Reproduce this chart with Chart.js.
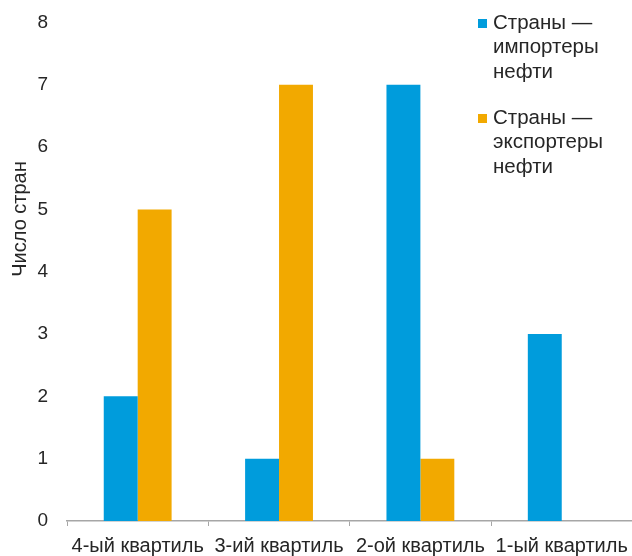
<!DOCTYPE html>
<html>
<head>
<meta charset="utf-8">
<script src="https://cdn.jsdelivr.net/npm/chart.js@4"></script>
<style>
  html, body { margin: 0; padding: 0; background: #fff; overflow: hidden; }
  #wrap { width: 636px; height: 556px; }
</style>
</head>
<body>
<div id="wrap"><canvas id="myChart" width="636" height="556"></canvas></div>
<script>
const categories = ['4-ый квартиль', '3-ий квартиль', '2-ой квартиль', '1-ый квартиль'];
const importers = [2, 1, 7, 3];
const exporters = [5, 7, 1, 0];
const importersLines = ['Страны —', 'импортеры', 'нефти'];
const exportersLines = ['Страны —', 'экспортеры', 'нефти'];
const yTitle = 'Число стран';

const blue = '#009cdc';
const orange = '#f2a900';
const textColor = '#262626';
const fontFamily = '"Liberation Sans", Arial, sans-serif';

// legend inside the plot (top right) + y title, which sits above the middle
const extras = {
  id: 'extras',
  afterDraw(chart) {
    const ctx = chart.ctx;
    const blocks = [
      { color: blue, lines: importersLines, y: 23 },
      { color: orange, lines: exportersLines, y: 118 }
    ];
    ctx.save();
    ctx.font = '20.5px ' + fontFamily;
    ctx.textBaseline = 'middle';
    blocks.forEach(b => {
      ctx.fillStyle = b.color;
      ctx.fillRect(478, b.y - 4, 9, 9);
      ctx.fillStyle = textColor;
      b.lines.forEach((line, i) => {
        ctx.fillText(line, 493, b.y + i * 24.5);
      });
    });

    ctx.translate(20, 219);
    ctx.rotate(-Math.PI / 2);
    ctx.textAlign = 'center';
    ctx.font = '20px ' + fontFamily;
    ctx.fillStyle = textColor;
    ctx.fillText(yTitle, 0, 0);
    ctx.restore();
  }
};

var data = {
  labels: categories,
  datasets: [{
    label: importersLines.join(' '),
    data: importers,
    backgroundColor: blue,
    borderWidth: 0
  }, {
    label: exportersLines.join(' '),
    data: exporters,
    backgroundColor: orange,
    borderWidth: 0
  }]
};

var config = {
  type: 'bar',
  data: data,
  options: {
    responsive: false,
    animation: false,
    layout: { padding: { top: 12, right: 1, left: 0, bottom: 0 } },
    datasets: { bar: { barPercentage: 1, categoryPercentage: 0.48 } },
    plugins: {
      legend: { display: false },
      tooltip: { enabled: false }
    },
    scales: {
      x: {
        grid: { display: true, drawOnChartArea: false, color: '#a6a6a6', tickLength: 5, offset: true },
        border: { display: true, color: '#a6a6a6', width: 1.5 },
        ticks: { color: textColor, font: { family: fontFamily, size: 20 }, padding: 8, maxRotation: 0, autoSkip: false },
        afterFit: function(scale) { scale.height = 35; }
      },
      y: {
        min: 0,
        max: 8,
        grid: { display: false },
        border: { display: false },
        ticks: { stepSize: 1, color: textColor, font: { family: fontFamily, size: 19 }, padding: 11 },
        afterFit: function(scale) { scale.width = 67; }
      }
    }
  },
  plugins: [extras]
};

var myChart = new Chart(document.getElementById('myChart'), config);
</script>
</body>
</html>
